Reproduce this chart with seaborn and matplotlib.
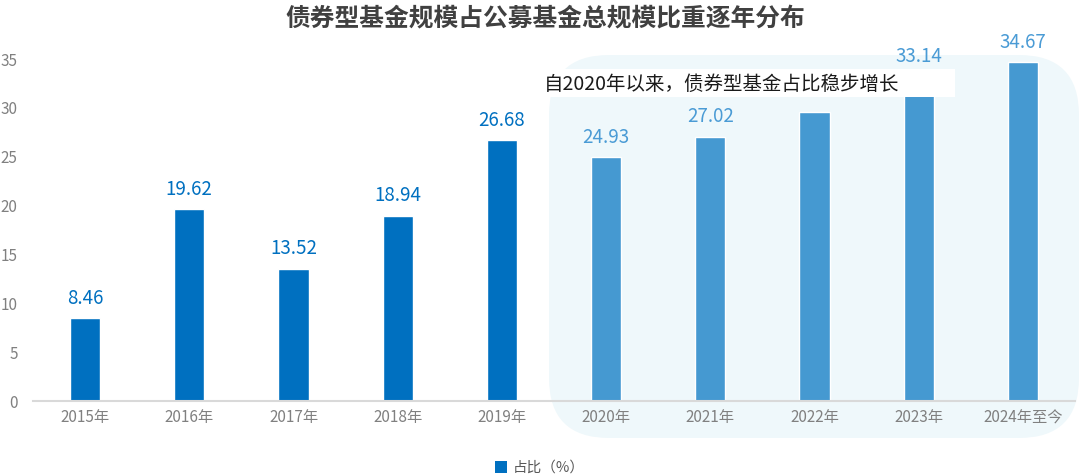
import matplotlib
matplotlib.use("Agg")
import matplotlib.pyplot as plt
import seaborn as sns
import pandas as pd
from matplotlib.patches import FancyBboxPatch, Rectangle
from matplotlib.transforms import IdentityTransform

years = ["2015年", "2016年", "2017年", "2018年", "2019年",
         "2020年", "2021年", "2022年", "2023年", "2024年至今"]
share = [8.46, 19.62, 13.52, 18.94, 26.68, 24.93, 27.02, 29.55, 33.14, 34.67]
# the 2022 value label is hidden behind the note box in the reference
label_shown = [True, True, True, True, True, True, True, False, True, True]
yticks = [0, 5, 10, 15, 20, 25, 30, 35]
title = "债券型基金规模占公募基金总规模比重逐年分布"
note = "自2020年以来，债券型基金占比稳步增长"
legend_label = "占比（%）"

dark = "#0070C0"
light = "#4599D1"
bar_colors = [dark] * 5 + [light] * 5
label_colors = [dark] * 5 + ["#4A9BD5"] * 5

sns.set_theme(style="white")
plt.rcParams["font.family"] = ["Noto Sans CJK SC", "DejaVu Sans"]

W, H = 1080, 476
fig = plt.figure(figsize=(W / 100, H / 100), dpi=100)
ax = fig.add_axes([33 / W, (H - 401) / H, (1075 - 33) / W, (401 - 59) / H])
ax.set_facecolor("none")

df = pd.DataFrame({"year": years, "share": share})
sns.barplot(data=df, x="year", y="share", hue="year", palette=bar_colors,
            legend=False, width=0.29, ax=ax, saturation=1)

ax.set_xlim(-0.5, 9.5)
ax.set_ylim(0, 35)
ax.set_yticks(yticks)
ax.set_xlabel("")
ax.set_ylabel("")
for s in ["top", "right", "left"]:
    ax.spines[s].set_visible(False)
ax.spines["bottom"].set_color("#D9D9D9")
ax.spines["bottom"].set_linewidth(1.5)
ax.tick_params(axis="both", length=0, colors="#808080")
ax.tick_params(axis="y", labelsize=11, pad=11)
ax.tick_params(axis="x", labelsize=11, pad=6)

for i, (v, c, show) in enumerate(zip(share, label_colors, label_shown)):
    if not show:
        continue
    ax.annotate(f"{v:.2f}", (i, v), xytext=(0, 7), textcoords="offset points",
                ha="center", va="bottom", fontsize=13.5, color=c,
                annotation_clip=False, zorder=3)

# light highlight background behind 2020+ bars
bg = FancyBboxPatch((549, H - 438), 1079 - 549, 438 - 55,
                    boxstyle="round,pad=0,rounding_size=60",
                    transform=IdentityTransform(), facecolor="#EFF8FB",
                    edgecolor="none", zorder=-1)
fig.add_artist(bg)

# white note box
box = Rectangle((540, H - 97), 415, 28, transform=IdentityTransform(),
                facecolor="white", edgecolor="none", zorder=5)
fig.add_artist(box)
fig.text(544 / W, (H - 84) / H, note, ha="left", va="center",
         fontsize=14, color="#1A1A1A", zorder=6)

fig.text(545 / W, (H - 18) / H, title, ha="center", va="center",
         fontsize=17.8, fontweight="bold", color="#404040")

handle = Rectangle((0, 0), 1, 1, facecolor=dark, edgecolor="none")
fig.legend([handle], [legend_label], loc="center", bbox_to_anchor=(0.5, (H - 468) / H),
           frameon=False, fontsize=10.5, handlelength=0.8, handleheight=0.8,
           handletextpad=0.4, labelcolor="#595959")

fig.savefig("out.png", dpi=100)
